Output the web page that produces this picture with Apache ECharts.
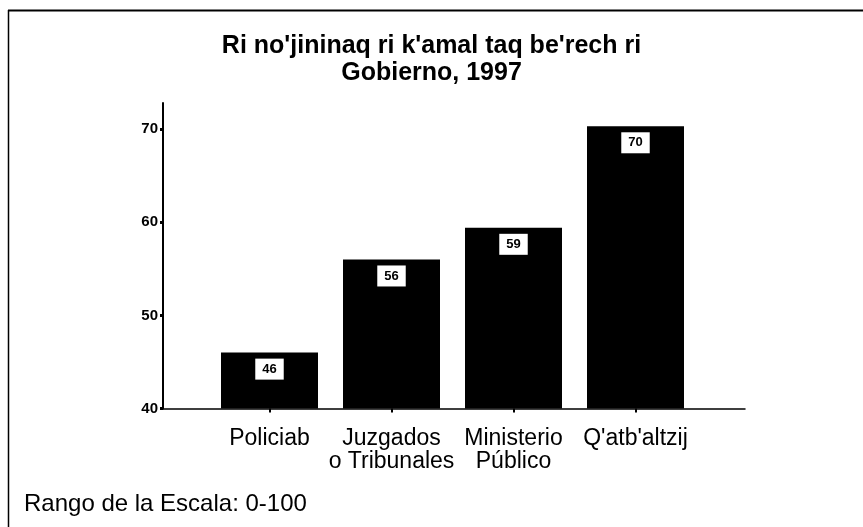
<!DOCTYPE html>
<html>
<head>
<meta charset="utf-8">
<script src="https://cdn.jsdelivr.net/npm/echarts@6/dist/echarts.min.js"></script>
<style>html,body{margin:0;padding:0;background:#fff}#c{width:863px;height:527px}</style>
</head>
<body>
<div id="c"></div>
<script>
var titleText = "Ri no'jininaq ri k'amal taq be'rech ri\nGobierno, 1997";
var footText = "Rango de la Escala: 0-100";
var categories = ["Policiab", "Juzgados\no Tribunales", "Ministerio\nPúblico", "Q'atb'altzij"];
var values = [46, 56, 59.4, 70.3];
var yTicks = [40, 50, 60, 70];

var chart = echarts.init(document.getElementById('c'), null, {renderer: 'canvas'});
var FF = "'Liberation Sans', Arial, Helvetica, sans-serif";
chart.setOption({
  backgroundColor: '#fff',
  animation: false,
  title: [{
    text: titleText,
    left: 'center',
    top: 28,
    textStyle: {fontFamily: FF, fontSize: 25, fontWeight: 'bold', color: '#000', lineHeight: 27}
  }, {
    text: footText,
    left: 24,
    top: 492,
    padding: 0,
    textStyle: {fontFamily: FF, fontSize: 24, fontWeight: 'normal', color: '#000', lineHeight: 24}
  }],
  grid: [
    {left: 208.5, right: 166.5, top: 103, bottom: 118.5},
    {left: 163, right: 118, top: 103, bottom: 118.5}
  ],
  xAxis: [{
    type: 'category',
    gridIndex: 0,
    data: categories,
    axisLine: {show: false},
    axisTick: {show: true, alignWithLabel: true, length: 4, lineStyle: {color: '#000', width: 2}},
    axisLabel: {color: '#000', fontFamily: FF, fontSize: 23, lineHeight: 23, margin: 19, interval: 0}
  }, {
    type: 'value',
    gridIndex: 1,
    min: 0, max: 1,
    axisLine: {show: true, onZero: false, lineStyle: {color: '#000', width: 1.5}},
    axisTick: {show: false},
    axisLabel: {show: false},
    splitLine: {show: false}
  }],
  yAxis: [{
    type: 'value',
    gridIndex: 0,
    min: 40,
    max: 72.8,
    interval: 10,
    offset: 45.5,
    axisLine: {show: true, lineStyle: {color: '#000', width: 2}},
    axisTick: {show: true, length: 3, customValues: yTicks, lineStyle: {color: '#000', width: 3}},
    axisLabel: {customValues: yTicks, color: '#000', fontFamily: FF, fontSize: 15, fontWeight: 'bold', margin: 5},
    splitLine: {show: false}
  }, {
    type: 'value',
    gridIndex: 1,
    show: false,
    min: 0, max: 1
  }],
  series: [{
    type: 'bar',
    xAxisIndex: 0,
    yAxisIndex: 0,
    data: values,
    barWidth: 97,
    itemStyle: {color: '#000'},
    label: {
      show: true,
      position: 'insideTop',
      distance: 6,
      formatter: function (p) { return String(Math.round(p.value)); },
      backgroundColor: '#fff',
      padding: [4, 7],
      color: '#000',
      fontFamily: FF,
      fontSize: 13,
      fontWeight: 'bold',
      lineHeight: 13
    }
  }],
  graphic: [
    {type: 'line', shape: {x1: 8, y1: 10.5, x2: 863, y2: 10.5}, style: {stroke: '#000', lineWidth: 2}},
    {type: 'line', shape: {x1: 8.5, y1: 10, x2: 8.5, y2: 527}, style: {stroke: '#000', lineWidth: 1.5}}
  ]
});
</script>
</body>
</html>
